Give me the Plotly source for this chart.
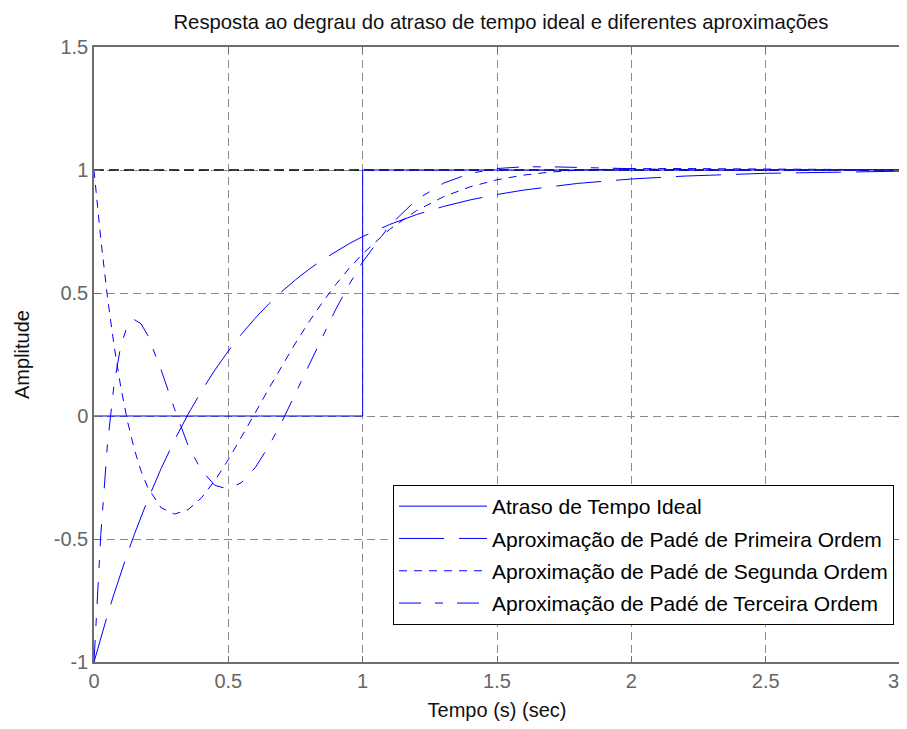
import plotly.graph_objects as go

# ---- data ----
t = [0, 0.025, 0.05, 0.075, 0.1, 0.125, 0.15, 0.175, 0.2, 0.25, 0.3, 0.35,
     0.4, 0.45, 0.5, 0.55, 0.6, 0.65, 0.7, 0.75, 0.8, 0.85, 0.9, 0.95, 1.0,
     1.1, 1.2, 1.3, 1.4, 1.5, 1.6, 1.7, 1.8, 2.0, 2.2, 2.5, 3.0]

pade1 = [-1.0, -0.9025, -0.8097, -0.7214, -0.6375, -0.5576, -0.4816, -0.4094,
         -0.3406, -0.2131, -0.0976, 0.0068, 0.1013, 0.1869, 0.2642, 0.3342,
         0.3976, 0.4550, 0.5068, 0.5537, 0.5962, 0.6347, 0.6694, 0.7008,
         0.7293, 0.7784, 0.8186, 0.8515, 0.8784, 0.9004, 0.9185, 0.9332,
         0.9454, 0.9634, 0.9754, 0.9865, 0.9950]

pade2 = [1.0, 0.7218, 0.484, 0.2834, 0.1156, -0.0228, -0.1348, -0.2233,
         -0.2908, -0.3733, -0.3986, -0.381, -0.3326, -0.2622, -0.1772, -0.0843,
         0.0125, 0.1102, 0.2052, 0.2965, 0.3824, 0.4615, 0.5344, 0.6007,
         0.6595, 0.7586, 0.8346, 0.891, 0.9317, 0.9603, 0.9794, 0.9917,
         0.9993, 1.0054, 1.0058, 1.0036, 1.0008]

pade3 = [-1.0, -0.486, -0.116, 0.132, 0.287, 0.368, 0.392, 0.375, 0.328,
         0.187, 0.028, -0.119, -0.222, -0.282, -0.297, -0.270, -0.210, -0.124,
         -0.022, 0.092, 0.208, 0.324, 0.434, 0.535, 0.626, 0.774, 0.879,
         0.946, 0.986, 1.006, 1.013, 1.013, 1.011, 1.0045, 1.0004, 0.9992, 1.0]

ideal_t = [0, 1, 1, 3]
ideal_y = [0, 0, 1, 1]

final_t = [0, 3]
final_y = [1, 1]

names = ["Atraso de Tempo Ideal",
         "Aproximação de Padé de Primeira Ordem",
         "Aproximação de Padé de Segunda Ordem",
         "Aproximação de Padé de Terceira Ordem"]

x_ticks = [0, 0.5, 1, 1.5, 2, 2.5, 3]
x_ticktext = ["0", "0.5", "1", "1.5", "2", "2.5", "3"]
y_ticks = [-1, -0.5, 0, 0.5, 1, 1.5]
y_ticktext = ["-1", "-0.5", "0", "0.5", "1", "1.5"]

FONT = "Liberation Sans, Arial, sans-serif"
BLUE = "#0000ff"
TICK_FONT = dict(family=FONT, size=20, color="#666666")

W, H = 899, 713
L, R, T, B = 86, 7, 39, 59

fig = go.Figure()
fig.add_trace(go.Scatter(x=final_t, y=final_y, mode="lines", showlegend=False,
                         hoverinfo="skip",
                         line=dict(color="black", width=1.6, dash="10px,5px")))
fig.add_trace(go.Scatter(x=ideal_t, y=ideal_y, mode="lines", name=names[0],
                         legendgroup="a",
                         line=dict(color=BLUE, width=1)))
fig.add_trace(go.Scatter(x=t, y=pade1, mode="lines", name=names[1],
                         legendgroup="b",
                         line=dict(color=BLUE, width=1, dash="45px,15px")))
fig.add_trace(go.Scatter(x=t, y=pade2, mode="lines", name=names[2],
                         legendgroup="c",
                         line=dict(color=BLUE, width=1, dash="8px,7px")))
fig.add_trace(go.Scatter(x=t, y=pade3, mode="lines", name=names[3],
                         legendgroup="d",
                         line=dict(color=BLUE, width=1, dash="22px,14px,8px,14px")))

axis_common = dict(
    showline=True, linecolor="#6e6e6e", linewidth=1.5, mirror="ticks",
    ticks="inside", ticklen=6, tickcolor="#6e6e6e", tickwidth=1,
    showgrid=True, gridcolor="#8a8a8a", gridwidth=1, griddash="8px,5px",
    zeroline=False,
    tickfont=TICK_FONT,
)

# the last x tick label is drawn as an annotation so it stays fully inside the page
shown_x_ticktext = x_ticktext[:-1] + [""]

fig.update_xaxes(range=[0, 3], tickvals=x_ticks, ticktext=shown_x_ticktext,
                 title=dict(text="Tempo (s) (sec)",
                            font=dict(family=FONT, size=20, color="#111111"),
                            standoff=16),
                 **axis_common)
fig.update_yaxes(range=[-1, 1.5], tickvals=y_ticks, ticktext=y_ticktext,
                 title=dict(text="Amplitude",
                            font=dict(family=FONT, size=20, color="#111111"),
                            standoff=19),
                 **axis_common)

fig.add_annotation(x=x_ticks[-1], xref="x", y=0, yref="paper",
                   text=x_ticktext[-1], showarrow=False, font=TICK_FONT,
                   xanchor="right", yanchor="middle", xshift=1, yshift=-19)

pw, ph = W - L - R, H - T - B
fig.update_layout(
    width=W, height=H,
    margin=dict(l=L, r=R, t=T, b=B, autoexpand=False),
    paper_bgcolor="white", plot_bgcolor="white",
    title=dict(text="Resposta ao degrau do atraso de tempo ideal e diferentes aproximações",
               font=dict(family=FONT, size=20.3, color="#111111"),
               x=493 / W, xanchor="center", y=1 - 14 / H, yanchor="middle"),
    legend=dict(x=(385 - L) / pw, y=(H - B - 477) / ph, xanchor="left", yanchor="top",
                bgcolor="white", bordercolor="black", borderwidth=1,
                font=dict(family=FONT, size=21, color="black"),
                tracegroupgap=2, itemwidth=88),
    showlegend=True,
)

fig.write_html("out.html")
